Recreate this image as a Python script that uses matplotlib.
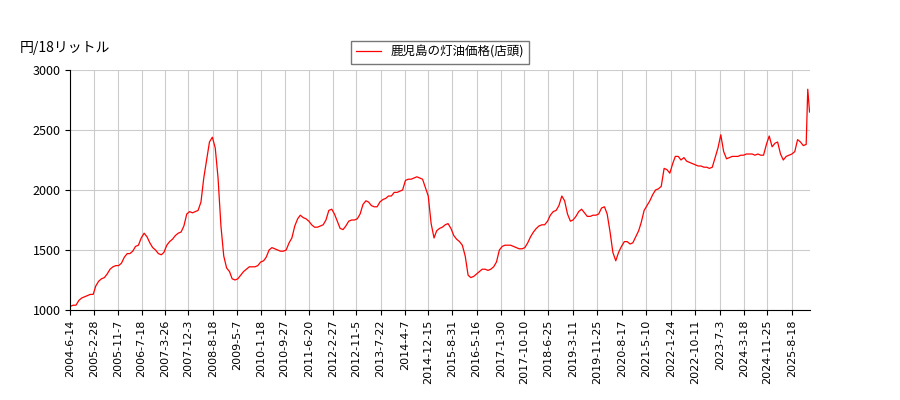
import matplotlib
matplotlib.use("Agg")
import matplotlib.pyplot as plt
import pandas as pd
import datetime as dt

plt.rcParams['font.family'] = ['Noto Sans CJK JP', 'DejaVu Sans']

start_month = "2004-06-01"
values = [
 1030,1040,1040,1080,1100,1110,1120,
 1130,1130,1200,1240,1260,1270,1300,1340,1360,1370,1370,1390,
 1440,1470,1470,1490,1530,1540,1600,1640,1610,1560,1520,1500,
 1470,1460,1480,1540,1570,1590,1620,1640,1650,1700,1800,1820,
 1810,1820,1830,1900,2100,2250,2400,2440,2350,2100,1700,1450,
 1350,1320,1260,1250,1260,1290,1320,1340,1360,1360,1360,1370,
 1400,1410,1440,1500,1520,1510,1500,1490,1490,1500,1560,1600,
 1700,1760,1790,1770,1760,1740,1710,1690,1690,1700,1710,1750,
 1830,1840,1800,1740,1680,1670,1700,1740,1750,1750,1760,1800,
 1880,1910,1900,1870,1860,1860,1900,1920,1930,1950,1950,1980,
 1980,1990,2000,2080,2090,2090,2100,2110,2100,2090,2020,1950,
 1720,1600,1660,1680,1690,1710,1720,1680,1620,1590,1570,1540,
 1450,1290,1270,1280,1300,1320,1340,1340,1330,1340,1360,1400,
 1500,1530,1540,1540,1540,1530,1520,1510,1510,1520,1560,1610,
 1650,1680,1700,1710,1710,1740,1790,1820,1830,1870,1950,1910,
 1800,1740,1750,1780,1820,1840,1810,1780,1780,1790,1790,1800,
 1850,1860,1800,1650,1480,1410,1480,1530,1570,1570,1550,1560,
 1610,1660,1730,1830,1870,1910,1960,2000,2010,2030,2180,2170,
 2140,2220,2280,2280,2250,2270,2240,2230,2220,2210,2200,2200,
 2190,2190,2180,2190,2270,2350,2460,2320,2260,2270,2280,2280,
 2280,2290,2290,2300,2300,2300,2290,2300,2290,2290,2380,2450,
 2360,2390,2400,2300,2250,2280,2290,2300,2320,2420,2400,2370,
 2380,
]
last_dates = ["2026-02-01", "2026-02-20"]
last_values = [2840, 2650]

tick_labels = ["2004-6-14", "2005-2-28", "2005-11-7", "2006-7-18", "2007-3-26", "2007-12-3",
               "2008-8-18", "2009-5-7", "2010-1-18", "2010-9-27", "2011-6-20", "2012-2-27",
               "2012-11-5", "2013-7-22", "2014-4-7", "2014-12-15", "2015-8-31", "2016-5-16",
               "2017-1-30", "2017-10-10", "2018-6-25", "2019-3-11", "2019-11-25", "2020-8-17",
               "2021-5-10", "2022-1-24", "2022-10-11", "2023-7-3", "2024-3-18", "2024-11-25",
               "2025-8-18"]

dates = list(pd.date_range(start_month, periods=len(values), freq="MS") + pd.Timedelta(days=14))
dates += list(pd.to_datetime(last_dates))
vals = values + last_values

fig = plt.figure(figsize=(9, 4), dpi=100)
ax = fig.add_axes([0.078, 0.225, 0.822, 0.6])
ax.plot(dates, vals, color="red", lw=0.9, label="鹿児島の灯油価格(店頭)")

ticks = pd.to_datetime(tick_labels)
ax.set_xticks(ticks)
ax.set_xticklabels(tick_labels, rotation=90, fontsize=8, family="DejaVu Sans")
ax.set_xlim(pd.Timestamp("2004-06-14"), pd.Timestamp("2026-02-25"))
ax.set_ylim(1000, 3000)
ax.set_yticks([1000, 1500, 2000, 2500, 3000])
ax.tick_params(axis="y", labelsize=9)
ax.grid(True, color="#cccccc", lw=0.8)
for s in ["top", "right"]:
    ax.spines[s].set_visible(False)
fig.text(0.022, 0.87, "円/18リットル", fontsize=10)
ax.legend(loc="lower center", bbox_to_anchor=(0.5, 1.0), fontsize=9, frameon=True,
          fancybox=False, edgecolor="#555555")
fig.savefig("out.png")
